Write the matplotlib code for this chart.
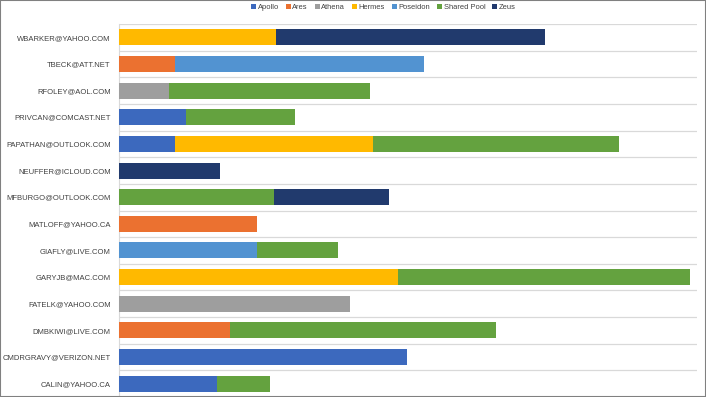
import matplotlib
matplotlib.use("Agg")
import matplotlib.pyplot as plt
import numpy as np

users = ["WBARKER@YAHOO.COM", "TBECK@ATT.NET", "RFOLEY@AOL.COM", "PRIVCAN@COMCAST.NET",
         "PAPATHAN@OUTLOOK.COM", "NEUFFER@ICLOUD.COM", "MFBURGO@OUTLOOK.COM", "MATLOFF@YAHOO.CA",
         "GIAFLY@LIVE.COM", "GARYJB@MAC.COM", "FATELK@YAHOO.COM", "DMBKIWI@LIVE.COM",
         "CMDRGRAVY@VERIZON.NET", "CALIN@YAHOO.CA"]

# values in the same order as users
apollo   = [0, 0, 0, 67, 56, 0, 0, 0, 0, 0, 0, 0, 288, 98]
ares     = [0, 56, 0, 0, 0, 0, 0, 138, 0, 0, 0, 111, 0, 0]
athena   = [0, 0, 50, 0, 0, 0, 0, 0, 0, 0, 231, 0, 0, 0]
hermes   = [157, 0, 0, 0, 198, 0, 0, 0, 0, 279, 0, 0, 0, 0]
poseidon = [0, 249, 0, 0, 0, 0, 0, 0, 138, 0, 0, 0, 0, 0]
shared   = [0, 0, 201, 109, 246, 0, 155, 0, 81, 292, 0, 266, 0, 53]
zeus     = [269, 0, 0, 0, 0, 101, 115, 0, 0, 0, 0, 0, 0, 0]

series = [("Apollo", apollo, "#3C69BE"), ("Ares", ares, "#EB7130"),
          ("Athena", athena, "#9E9E9E"), ("Hermes", hermes, "#FFB900"),
          ("Poseidon", poseidon, "#5293D1"), ("Shared Pool", shared, "#64A23F"),
          ("Zeus", zeus, "#213A6D")]

plt.rcParams['font.family'] = ['Liberation Sans', 'DejaVu Sans']

fig = plt.figure(figsize=(7.06, 3.97), dpi=100)
ax = fig.add_axes([0.1686, 0.0, 0.8185, 0.9395])

y = np.arange(len(users))
left = np.zeros(len(users))
for name, vals, col in series:
    vals = np.array(vals, dtype=float)
    ax.barh(y, vals, left=left, height=0.6, color=col, label=name, zorder=3)
    left += vals

ax.set_ylim(len(users) - 0.5, -0.5)
ax.set_xlim(0, 578)
ax.set_yticks(y)
ax.set_yticklabels(users, fontsize=5.5, color="#404040")
ax.tick_params(axis='y', length=0, pad=6)
ax.set_xticks([])
for b in np.arange(-0.5, len(users), 1):
    ax.axhline(b, color="#d9d9d9", lw=0.9, zorder=1)
for s in ["top", "right", "bottom"]:
    ax.spines[s].set_visible(False)
ax.spines["left"].set_color("#d9d9d9")

fig.legend(loc="upper center", bbox_to_anchor=(0.543, 1.008), ncol=7, frameon=False,
           fontsize=5.4, handlelength=0.65, handleheight=0.65, handletextpad=0.25,
           columnspacing=0.9, labelcolor="#404040")

fig.patches.append(plt.Rectangle((0, 0), 1, 1, transform=fig.transFigure, fill=False,
                                 edgecolor="#808080", lw=1.5))

fig.savefig("out.png", dpi=100)
